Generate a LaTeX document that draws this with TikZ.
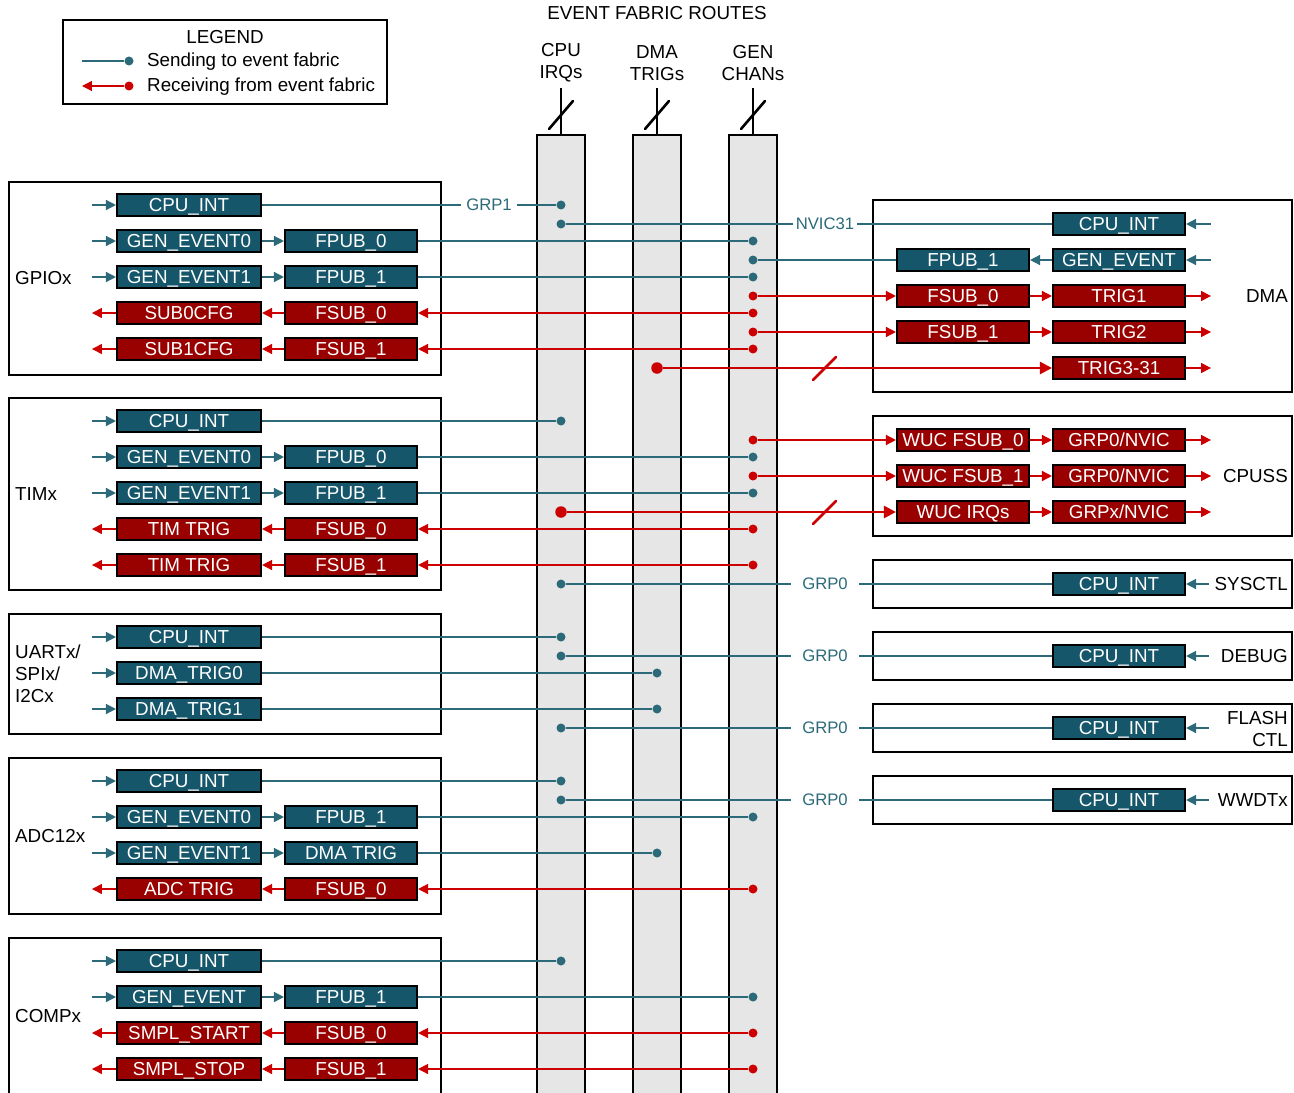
\documentclass[tikz,border=0pt]{standalone}
\usepackage{fontspec}
\setmainfont{Liberation Sans}
\usepackage{xcolor}
\usepackage{tikz}
\usetikzlibrary{arrows.meta}
\usetikzlibrary{positioning}

\definecolor{pubfill}{HTML}{15566A}
\definecolor{publine}{HTML}{2C6A7A}
\definecolor{subfill}{HTML}{990000}
\definecolor{subline}{HTML}{CC0000}
\definecolor{busfill}{HTML}{E6E6E6}

\begin{document}
\begin{tikzpicture}[x=0.02cm,y=-0.02cm,
	every node/.style={font=\fontsize{10.7}{12.5}\selectfont},
	pub/.style={draw=black,line width=1.2pt,fill=pubfill,text=white,minimum height=0.44cm,inner sep=0pt,text height=7.7pt,text depth=0pt},
	sub/.style={pub,fill=subfill},
	wideb/.style={minimum width=2.88cm},
	narrowb/.style={minimum width=2.64cm},
	module/.style={draw=black,line width=1.1pt},
	busbar/.style={draw=black,line width=1.3pt,fill=busfill},
	pdot/.style={circle,fill=publine,inner sep=0pt,minimum size=0.18cm},
	sdot/.style={circle,fill=subline,inner sep=0pt,minimum size=0.18cm},
	bigdot/.style={sdot,minimum size=0.23cm},
	send/.style={draw=publine,line width=0.8pt},
	recv/.style={draw=subline,line width=0.8pt},
	sendto/.style={send,-{Triangle[length=0.2cm,width=0.2cm]}},
	sendin/.style={send,{Triangle[length=0.2cm,width=0.2cm]}-},
	recvto/.style={recv,-{Triangle[length=0.2cm,width=0.2cm]}},
	thickrecv/.style={draw=subline,line width=1.5pt,-{Triangle[length=0.24cm,width=0.24cm]}},
	slash/.style={line width=1.5pt,line cap=round},
	grplbl/.style={fill=white,text=publine,inner xsep=3pt,inner ysep=1pt,font=\fontsize{9.5}{11}\selectfont}]
	\useasboundingbox (0,0) rectangle (1294,1092);

	% legend
	\draw[module] (63,20) rectangle (387,104);
	\node (legend) at (225,37) {LEGEND};
	\node[pdot] (lg-d1) at (129,61) {};
	\coordinate (lg-a1) at (82,61);
	\draw[send] (lg-a1) -- (lg-d1);
	\node[anchor=west] (lg-t1) at (141,62) {Sending to event fabric};
	\node[sdot] (lg-d2) at (129,86) {};
	\coordinate (lg-a2) at (82,86);
	\draw[recvto] (lg-d2) -- (lg-a2);
	\node[anchor=west] (lg-t2) at (141,87) {Receiving from event fabric};

	% event fabric buses
	\node (title) at (657,13) {EVENT FABRIC ROUTES};
	\foreach \x/\nm/\la/\lb in {561/cpu/CPU/IRQs,657/dma/DMA/TRIGs,753/gen/GEN/CHANs}{
		\draw[busbar] (\x-24,135) rectangle (\x+24,1100);
		\node[align=center] (\nm-lbl) at (\x,63) {\la\\\lb};
		\coordinate (\nm-top) at (\x,135);
		\draw[line width=1.2pt] (\x,88) -- (\nm-top);
		\draw[slash] (\x-12,129) -- (\x+12,101);
	}

	% GPIOx
	\draw[module] (9,182) rectangle (441,375);
	\node[anchor=west] (gpio) at (9,278) {GPIOx};
	\node[pub,wideb] (gpio-int) at (189,205) {CPU\_INT};
	\node[pub,wideb] (gpio-ge0) at (189,241) {GEN\_EVENT0};
	\node[pub,narrowb] (gpio-fp0) at (351,241) {FPUB\_0};
	\node[pub,wideb] (gpio-ge1) at (189,277) {GEN\_EVENT1};
	\node[pub,narrowb] (gpio-fp1) at (351,277) {FPUB\_1};
	\node[sub,wideb] (gpio-cfg0) at (189,313) {SUB0CFG};
	\node[sub,narrowb] (gpio-fs0) at (351,313) {FSUB\_0};
	\node[sub,wideb] (gpio-cfg1) at (189,349) {SUB1CFG};
	\node[sub,narrowb] (gpio-fs1) at (351,349) {FSUB\_1};
	\node[pdot] (gpio-d1) at (561,205) {};
	\node[pdot] (gpio-d2) at (753,241) {};
	\node[pdot] (gpio-d3) at (753,277) {};
	\node[sdot] (gpio-d4) at (753,313) {};
	\node[sdot] (gpio-d5) at (753,349) {};
	\node[grplbl] (grp1) at (489,205) {GRP1};
	\draw[sendin] (gpio-int.west) -- ++(-24,0);
	\draw[sendin] (gpio-ge0.west) -- ++(-24,0);
	\draw[sendin] (gpio-ge1.west) -- ++(-24,0);
	\draw[sendto] (gpio-ge0) -- (gpio-fp0);
	\draw[sendto] (gpio-ge1) -- (gpio-fp1);
	\draw[send] (gpio-int) -- (grp1);
	\draw[send] (grp1) -- (gpio-d1);
	\draw[send] (gpio-fp0) -- (gpio-d2);
	\draw[send] (gpio-fp1) -- (gpio-d3);
	\draw[recvto] (gpio-d4) -- (gpio-fs0);
	\draw[recvto] (gpio-d5) -- (gpio-fs1);
	\draw[recvto] (gpio-fs0) -- (gpio-cfg0);
	\draw[recvto] (gpio-fs1) -- (gpio-cfg1);
	\draw[recvto] (gpio-cfg0.west) -- ++(-24,0);
	\draw[recvto] (gpio-cfg1.west) -- ++(-24,0);

	% TIMx
	\draw[module] (9,398) rectangle (441,590);
	\node[anchor=west] (tim) at (9,494) {TIMx};
	\node[pub,wideb] (tim-int) at (189,421) {CPU\_INT};
	\node[pub,wideb] (tim-ge0) at (189,457) {GEN\_EVENT0};
	\node[pub,narrowb] (tim-fp0) at (351,457) {FPUB\_0};
	\node[pub,wideb] (tim-ge1) at (189,493) {GEN\_EVENT1};
	\node[pub,narrowb] (tim-fp1) at (351,493) {FPUB\_1};
	\node[sub,wideb] (tim-trg0) at (189,529) {TIM TRIG};
	\node[sub,narrowb] (tim-fs0) at (351,529) {FSUB\_0};
	\node[sub,wideb] (tim-trg1) at (189,565) {TIM TRIG};
	\node[sub,narrowb] (tim-fs1) at (351,565) {FSUB\_1};
	\node[pdot] (tim-d1) at (561,421) {};
	\node[pdot] (tim-d2) at (753,457) {};
	\node[pdot] (tim-d3) at (753,493) {};
	\node[sdot] (tim-d4) at (753,529) {};
	\node[sdot] (tim-d5) at (753,565) {};
	\draw[sendin] (tim-int.west) -- ++(-24,0);
	\draw[sendin] (tim-ge0.west) -- ++(-24,0);
	\draw[sendin] (tim-ge1.west) -- ++(-24,0);
	\draw[sendto] (tim-ge0) -- (tim-fp0);
	\draw[sendto] (tim-ge1) -- (tim-fp1);
	\draw[send] (tim-int) -- (tim-d1);
	\draw[send] (tim-fp0) -- (tim-d2);
	\draw[send] (tim-fp1) -- (tim-d3);
	\draw[recvto] (tim-d4) -- (tim-fs0);
	\draw[recvto] (tim-d5) -- (tim-fs1);
	\draw[recvto] (tim-fs0) -- (tim-trg0);
	\draw[recvto] (tim-fs1) -- (tim-trg1);
	\draw[recvto] (tim-trg0.west) -- ++(-24,0);
	\draw[recvto] (tim-trg1.west) -- ++(-24,0);

	% UARTx / SPIx / I2Cx
	\draw[module] (9,614) rectangle (441,734);
	\node[anchor=west,align=left] (uart) at (9,674) {UARTx/\\SPIx/\\I2Cx};
	\node[pub,wideb] (uart-int) at (189,637) {CPU\_INT};
	\node[pub,wideb] (uart-dt0) at (189,673) {DMA\_TRIG0};
	\node[pub,wideb] (uart-dt1) at (189,709) {DMA\_TRIG1};
	\node[pdot] (uart-d1) at (561,637) {};
	\node[pdot] (uart-d2) at (657,673) {};
	\node[pdot] (uart-d3) at (657,709) {};
	\draw[sendin] (uart-int.west) -- ++(-24,0);
	\draw[sendin] (uart-dt0.west) -- ++(-24,0);
	\draw[sendin] (uart-dt1.west) -- ++(-24,0);
	\draw[send] (uart-int) -- (uart-d1);
	\draw[send] (uart-dt0) -- (uart-d2);
	\draw[send] (uart-dt1) -- (uart-d3);

	% ADC12x
	\draw[module] (9,758) rectangle (441,914);
	\node[anchor=west] (adc) at (9,836) {ADC12x};
	\node[pub,wideb] (adc-int) at (189,781) {CPU\_INT};
	\node[pub,wideb] (adc-ge0) at (189,817) {GEN\_EVENT0};
	\node[pub,narrowb] (adc-fp1) at (351,817) {FPUB\_1};
	\node[pub,wideb] (adc-ge1) at (189,853) {GEN\_EVENT1};
	\node[pub,narrowb] (adc-dt) at (351,853) {DMA TRIG};
	\node[sub,wideb] (adc-trg) at (189,889) {ADC TRIG};
	\node[sub,narrowb] (adc-fs0) at (351,889) {FSUB\_0};
	\node[pdot] (adc-d1) at (561,781) {};
	\node[pdot] (adc-d2) at (753,817) {};
	\node[pdot] (adc-d3) at (657,853) {};
	\node[sdot] (adc-d4) at (753,889) {};
	\draw[sendin] (adc-int.west) -- ++(-24,0);
	\draw[sendin] (adc-ge0.west) -- ++(-24,0);
	\draw[sendin] (adc-ge1.west) -- ++(-24,0);
	\draw[sendto] (adc-ge0) -- (adc-fp1);
	\draw[sendto] (adc-ge1) -- (adc-dt);
	\draw[send] (adc-int) -- (adc-d1);
	\draw[send] (adc-fp1) -- (adc-d2);
	\draw[send] (adc-dt) -- (adc-d3);
	\draw[recvto] (adc-d4) -- (adc-fs0);
	\draw[recvto] (adc-fs0) -- (adc-trg);
	\draw[recvto] (adc-trg.west) -- ++(-24,0);

	% COMPx
	\draw[module] (9,938) rectangle (441,1100);
	\node[anchor=west] (comp) at (9,1016) {COMPx};
	\node[pub,wideb] (comp-int) at (189,961) {CPU\_INT};
	\node[pub,wideb] (comp-ge) at (189,997) {GEN\_EVENT};
	\node[pub,narrowb] (comp-fp1) at (351,997) {FPUB\_1};
	\node[sub,wideb] (comp-start) at (189,1033) {SMPL\_START};
	\node[sub,narrowb] (comp-fs0) at (351,1033) {FSUB\_0};
	\node[sub,wideb] (comp-stop) at (189,1069) {SMPL\_STOP};
	\node[sub,narrowb] (comp-fs1) at (351,1069) {FSUB\_1};
	\node[pdot] (comp-d1) at (561,961) {};
	\node[pdot] (comp-d2) at (753,997) {};
	\node[sdot] (comp-d3) at (753,1033) {};
	\node[sdot] (comp-d4) at (753,1069) {};
	\draw[sendin] (comp-int.west) -- ++(-24,0);
	\draw[sendin] (comp-ge.west) -- ++(-24,0);
	\draw[sendto] (comp-ge) -- (comp-fp1);
	\draw[send] (comp-int) -- (comp-d1);
	\draw[send] (comp-fp1) -- (comp-d2);
	\draw[recvto] (comp-d3) -- (comp-fs0);
	\draw[recvto] (comp-d4) -- (comp-fs1);
	\draw[recvto] (comp-fs0) -- (comp-start);
	\draw[recvto] (comp-fs1) -- (comp-stop);
	\draw[recvto] (comp-start.west) -- ++(-24,0);
	\draw[recvto] (comp-stop.west) -- ++(-24,0);

	% DMA
	\draw[module] (873,200) rectangle (1292,392);
	\node[anchor=east] (dma) at (1294,296) {DMA};
	\node[pub,narrowb] (dma-int) at (1119,224) {CPU\_INT};
	\node[pub,narrowb] (dma-ge) at (1119,260) {GEN\_EVENT};
	\node[pub,narrowb] (dma-fp1) at (963,260) {FPUB\_1};
	\node[sub,narrowb] (dma-fs0) at (963,296) {FSUB\_0};
	\node[sub,narrowb] (dma-t1) at (1119,296) {TRIG1};
	\node[sub,narrowb] (dma-fs1) at (963,332) {FSUB\_1};
	\node[sub,narrowb] (dma-t2) at (1119,332) {TRIG2};
	\node[sub,narrowb] (dma-t3) at (1119,368) {TRIG3-31};
	\node[pdot] (dma-d1) at (561,224) {};
	\node[pdot] (dma-d2) at (753,260) {};
	\node[sdot] (dma-d3) at (753,296) {};
	\node[sdot] (dma-d4) at (753,332) {};
	\node[bigdot] (dma-d5) at (657,368) {};
	\node[grplbl,inner xsep=1.5pt] (nvic31) at (825,224) {NVIC31};
	\draw[send] (dma-d1) -- (nvic31);
	\draw[send] (nvic31) -- (dma-int);
	\draw[sendin] (dma-int.east) -- ++(25,0);
	\draw[sendin] (dma-ge.east) -- ++(25,0);
	\draw[sendto] (dma-ge) -- (dma-fp1);
	\draw[send] (dma-fp1) -- (dma-d2);
	\draw[recvto] (dma-d3) -- (dma-fs0);
	\draw[recvto] (dma-d4) -- (dma-fs1);
	\draw[recvto] (dma-fs0) -- (dma-t1);
	\draw[recvto] (dma-fs1) -- (dma-t2);
	\draw[thickrecv] (dma-d5) -- (dma-t3);
	\draw[slash,subline] (813,380) -- (836,357);
	\draw[recvto] (dma-t1.east) -- ++(25,0);
	\draw[recvto] (dma-t2.east) -- ++(25,0);
	\draw[recvto] (dma-t3.east) -- ++(25,0);

	% CPUSS
	\draw[module] (873,416) rectangle (1292,536);
	\node[anchor=east] (cpuss) at (1294,476) {CPUSS};
	\node[sub,narrowb] (cpuss-w0) at (963,440) {WUC FSUB\_0};
	\node[sub,narrowb] (cpuss-g0) at (1119,440) {GRP0/NVIC};
	\node[sub,narrowb] (cpuss-w1) at (963,476) {WUC FSUB\_1};
	\node[sub,narrowb] (cpuss-g1) at (1119,476) {GRP0/NVIC};
	\node[sub,narrowb] (cpuss-wi) at (963,512) {WUC IRQs};
	\node[sub,narrowb] (cpuss-gx) at (1119,512) {GRPx/NVIC};
	\node[sdot] (cpuss-d1) at (753,440) {};
	\node[sdot] (cpuss-d2) at (753,476) {};
	\node[bigdot] (cpuss-d3) at (561,512) {};
	\draw[recvto] (cpuss-d1) -- (cpuss-w0);
	\draw[recvto] (cpuss-d2) -- (cpuss-w1);
	\draw[thickrecv] (cpuss-d3) -- (cpuss-wi);
	\draw[slash,subline] (813,524) -- (836,501);
	\draw[recvto] (cpuss-w0) -- (cpuss-g0);
	\draw[recvto] (cpuss-w1) -- (cpuss-g1);
	\draw[recvto] (cpuss-wi) -- (cpuss-gx);
	\draw[recvto] (cpuss-g0.east) -- ++(25,0);
	\draw[recvto] (cpuss-g1.east) -- ++(25,0);
	\draw[recvto] (cpuss-gx.east) -- ++(25,0);

	% SYSCTL
	\draw[module] (873,560) rectangle (1292,608);
	\node[anchor=east] (sysctl) at (1294,584) {SYSCTL};
	\node[pub,narrowb] (sysctl-int) at (1119,584) {CPU\_INT};
	\node[pdot] (sysctl-d) at (561,584) {};
	\node[grplbl,inner xsep=0.22cm] (sysctl-grp) at (825,584) {GRP0};
	\draw[send] (sysctl-d) -- (sysctl-grp);
	\draw[send] (sysctl-grp) -- (sysctl-int);
	\draw[sendin] (sysctl-int.east) -- ++(23,0);

	% DEBUG
	\draw[module] (873,632) rectangle (1292,680);
	\node[anchor=east] (debug) at (1294,656) {DEBUG};
	\node[pub,narrowb] (debug-int) at (1119,656) {CPU\_INT};
	\node[pdot] (debug-d) at (561,656) {};
	\node[grplbl,inner xsep=0.22cm] (debug-grp) at (825,656) {GRP0};
	\draw[send] (debug-d) -- (debug-grp);
	\draw[send] (debug-grp) -- (debug-int);
	\draw[sendin] (debug-int.east) -- ++(23,0);

	% FLASH CTL
	\draw[module] (873,704) rectangle (1292,752);
	\node[anchor=east,align=right] (flash) at (1294,729) {FLASH\\CTL};
	\node[pub,narrowb] (flash-int) at (1119,728) {CPU\_INT};
	\node[pdot] (flash-d) at (561,728) {};
	\node[grplbl,inner xsep=0.22cm] (flash-grp) at (825,728) {GRP0};
	\draw[send] (flash-d) -- (flash-grp);
	\draw[send] (flash-grp) -- (flash-int);
	\draw[sendin] (flash-int.east) -- ++(23,0);

	% WWDTx
	\draw[module] (873,776) rectangle (1292,824);
	\node[anchor=east] (wwdt) at (1294,800) {WWDTx};
	\node[pub,narrowb] (wwdt-int) at (1119,800) {CPU\_INT};
	\node[pdot] (wwdt-d) at (561,800) {};
	\node[grplbl,inner xsep=0.22cm] (wwdt-grp) at (825,800) {GRP0};
	\draw[send] (wwdt-d) -- (wwdt-grp);
	\draw[send] (wwdt-grp) -- (wwdt-int);
	\draw[sendin] (wwdt-int.east) -- ++(23,0);
\end{tikzpicture}
\end{document}
